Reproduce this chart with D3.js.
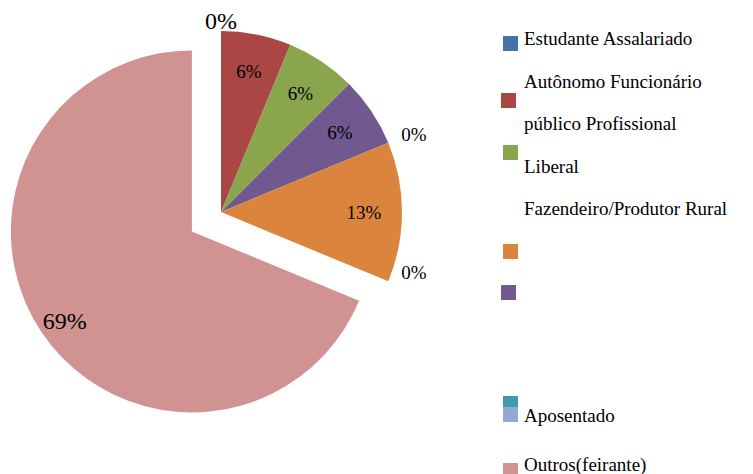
<!DOCTYPE html>
<html><head><meta charset="utf-8">
<script src="https://cdn.jsdelivr.net/npm/d3@7"></script>
<style>
html,body{margin:0;background:#fff;font-family:"Liberation Serif","DejaVu Serif",serif}
svg{display:block}
</style>
</head><body style="font-family:'Liberation Serif','DejaVu Serif',serif">
<svg id="c" width="753" height="474" font-family="Liberation Serif, DejaVu Serif, serif"></svg>
<script>
const categories = ["Estudante","Assalariado","Autônomo","Funcionário público","Profissional Liberal","Fazendeiro/Produtor Rural","Aposentado","Outros(feirante)"];
const values = [0,1,1,1,0,2,0,11];
const colors = ["#4572A7","#AA4643","#89A54E","#71588F","#4198AF","#DB843D","#93A9CF","#D19392"];
const explodedIndex = 7;
// legend as laid out in the picture: text lines and marker colours (wrapped/shifted by the original)
const legendLines = ["Estudante Assalariado","Autônomo Funcionário","público Profissional","Liberal","Fazendeiro/Produtor Rural","","","","","Aposentado","","Outros(feirante)"];
const legendMarkers = [0,1,2,5,3,4,6,7];

const svg = d3.select("#c");
const cx = 221, cy = 212, R = 181, explode = 35;
const total = d3.sum(values);
const pie = d3.pie().sort(null).value(d=>d)(values);
const arc = d3.arc().innerRadius(0).outerRadius(R);
const lab = d3.arc().innerRadius(143).outerRadius(143);
const labBig = d3.arc().innerRadius(160).outerRadius(160);

function addText(s,x,y,fs,anchor){
  return svg.append("text").attr("x",x).attr("y",y)
    .attr("font-family","Liberation Serif, DejaVu Serif, serif")
    .attr("font-size",fs).attr("fill","#000")
    .attr("text-anchor",anchor||"start").text(s);
}

const g = svg.append("g").attr("transform",`translate(${cx},${cy})`);
function off(d,i){
  if(i!==explodedIndex) return [0,0];
  const a=(d.startAngle+d.endAngle)/2;
  return [explode*Math.sin(a), -explode*Math.cos(a)];
}
g.selectAll("path").data(pie).join("path")
  .attr("d",arc)
  .attr("fill",(d,i)=>colors[i])
  .attr("transform",(d,i)=>{const o=off(d,i);return `translate(${o[0]},${o[1]})`;});

const pct = v => Math.round(v/total*100)+"%";
pie.forEach((d,i)=>{
  const s = pct(d.value);
  const a=(d.startAngle+d.endAngle)/2;
  const o=off(d,i);
  if(d.value===0){
    const ex=R*Math.sin(a), ey=-R*Math.cos(a);
    const centred=Math.abs(Math.sin(a))<0.3;
    addText(s, cx+(centred?ex:ex+13), cy+ey-2, centred?24:19, centred?"middle":"start");
  } else if(i===explodedIndex){
    const c=labBig.centroid(d);
    addText(s, cx+c[0]+o[0]+6, cy+c[1]+o[1]+0.35*24, 24, "middle");
  } else {
    const c=lab.centroid(d);
    addText(s, cx+c[0], cy+c[1]+0.35*19, 19, "middle");
  }
});

const lineY = d3.scaleLinear().domain([0,1]).range([45,87.5]);
legendLines.forEach((s,i)=>{
  if(!s) return;
  let y = lineY(i);
  if(i===9) y=422; if(i===11) y=471;
  addText(s, 524, y, 19, "start");
});
const markerY=[36,93,145,244,285,396,407,463];
const markerH=[15,15,15,15,15,11,15,15];
const markerX=[503,501,503,503,501,503,503,503];
legendMarkers.forEach((ci,k)=>{
  svg.append("rect").attr("x",markerX[k]).attr("y",markerY[k]).attr("width",15).attr("height",markerH[k]).attr("fill",colors[ci]);
});
</script>
</body></html>
